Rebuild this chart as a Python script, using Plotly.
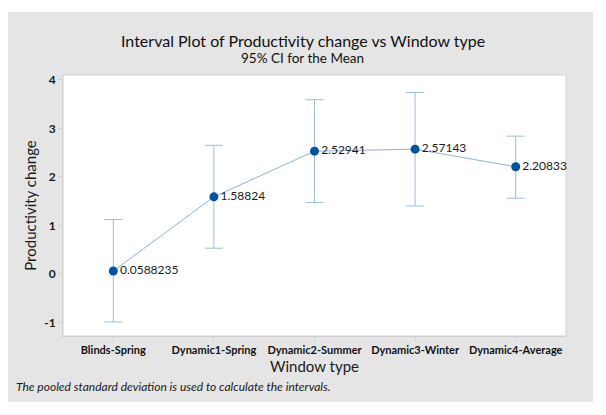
import plotly.graph_objects as go

categories = ["Blinds-Spring", "Dynamic1-Spring", "Dynamic2-Summer", "Dynamic3-Winter", "Dynamic4-Average"]
means = [0.0588235, 1.58824, 2.52941, 2.57143, 2.20833]
ci_low = [-0.99, 0.53, 1.47, 1.40, 1.56]
ci_high = [1.12, 2.65, 3.59, 3.74, 2.84]
mean_labels = ["0.0588235", "1.58824", "2.52941", "2.57143", "2.20833"]
y_ticks = [-1, 0, 1, 2, 3, 4]

FONT = "Segoe UI, Lato, Noto Sans, sans-serif"
TXT = "#1a1a1a"

err_plus = [h - m for h, m in zip(ci_high, means)]
err_minus = [m - l for m, l in zip(means, ci_low)]

fig = go.Figure()
fig.add_trace(go.Scatter(
    x=list(range(len(categories))), y=means,
    mode="lines+markers+text",
    text=mean_labels, textposition="middle right",
    textfont=dict(family=FONT, size=12, color=TXT),
    line=dict(color="#8DB1DE", width=1),
    marker=dict(color="#0052A3", size=9),
    error_y=dict(type="data", symmetric=False, array=err_plus, arrayminus=err_minus,
                 color="#9BBCE3", thickness=1, width=9),
    cliponaxis=False,
    showlegend=False,
))

# figure background frame
fig.add_shape(type="rect", xref="paper", yref="paper",
              x0=-0.1093, x1=1.0537, y0=-0.2529, y1=1.2414,
              fillcolor="#E5E5E5", line=dict(width=0), layer="below")
fig.add_shape(type="rect", xref="paper", yref="paper",
              x0=0, x1=1, y0=0, y1=1,
              fillcolor="white", line=dict(color="#D2D2D2", width=1), layer="below")

fig.add_annotation(text="Interval Plot of Productivity change vs Window type",
                   xref="paper", yref="paper", x=0.4771, y=1.134, showarrow=False,
                   xanchor="center", yanchor="middle",
                   font=dict(family=FONT, size=16, color="#111111"))
fig.add_annotation(text="95% CI for the Mean",
                   xref="paper", yref="paper", x=0.4771, y=1.065, showarrow=False,
                   xanchor="center", yanchor="middle",
                   font=dict(family=FONT, size=13.5, color="#111111"))
fig.add_annotation(text="<i>The pooled standard deviation is used to calculate the intervals.</i>",
                   xref="paper", yref="paper", x=-0.0974, y=-0.1916, showarrow=False,
                   xanchor="left", yanchor="middle",
                   font=dict(family=FONT, size=12, color=TXT))

fig.update_layout(
    width=598, height=407,
    margin=dict(l=55, r=40, t=67, b=79),
    paper_bgcolor="white", plot_bgcolor="white",
    font=dict(family=FONT, color=TXT),
    xaxis=dict(range=[-0.5, 4.5], tickmode="array", tickvals=list(range(len(categories))),
               ticktext=["<b>%s</b>" % c for c in categories], tickangle=0, automargin=False,
               tickfont=dict(family=FONT, size=11, color="#111111"),
               showgrid=False, zeroline=False, showline=True, linecolor="#CFCFCF",
               ticks="outside", ticklen=4, tickcolor="#CFCFCF",
               title=dict(text="Window type", font=dict(family=FONT, size=15, color=TXT), standoff=6)),
    yaxis=dict(range=[-1.28, 4.1], tickmode="array", tickvals=y_ticks,
               ticktext=["<b>%d</b>" % t for t in y_ticks], automargin=False,
               tickfont=dict(family=FONT, size=12, color=TXT),
               showgrid=False, zeroline=False, showline=True, linecolor="#CFCFCF",
               ticks="outside", ticklen=4, tickcolor="#CFCFCF",
               title=dict(text="Productivity change", font=dict(family=FONT, size=15, color=TXT), standoff=3)),
)

fig.write_html("out.html")
